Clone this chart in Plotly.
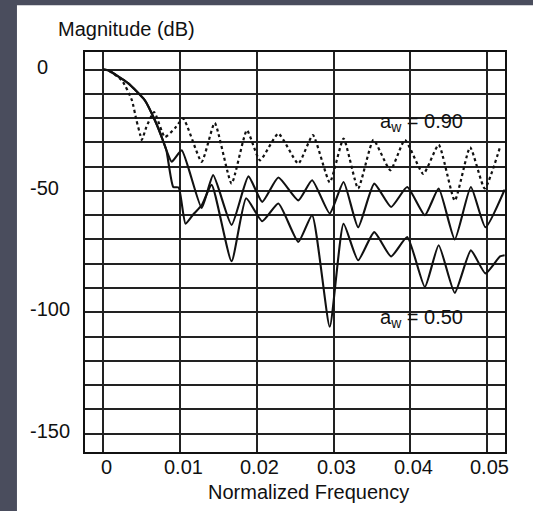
import plotly.graph_objects as go

# ---- data ----
freq_090 = [0, 0.0006, 0.0024, 0.0037, 0.0043, 0.0048, 0.0050, 0.0056, 0.0066, 0.0080, 0.0093, 0.0104,
            0.0128, 0.0145, 0.0167, 0.0187, 0.0204, 0.0228, 0.0254, 0.0273, 0.0295, 0.0313, 0.0332,
            0.0352, 0.0374, 0.0393, 0.0417, 0.0437, 0.0458, 0.0478, 0.0497, 0.0517]
mag_090 = [0, -0.3, -4.4, -12.6, -20.9, -27.0, -29.0, -23.6, -17.5, -27.8, -24.2, -20.2,
           -38.0, -22.0, -47.0, -25.0, -37.4, -26.4, -38.7, -27.0, -46.5, -28.4, -49.0,
           -29.0, -41.5, -29.0, -43.0, -31.0, -54.0, -32.0, -49.0, -32.0]

freq_mid = [0, 0.0006, 0.0032, 0.0054, 0.0067, 0.0076, 0.0082, 0.0089, 0.0102, 0.0128, 0.0143,
            0.0167, 0.0189, 0.0207, 0.0228, 0.0254, 0.0272, 0.0295, 0.0313, 0.0332, 0.0353,
            0.0375, 0.0396, 0.0419, 0.0437, 0.0458, 0.0479, 0.0498, 0.0523]
mag_mid = [0, -0.3, -5.6, -12.7, -20.9, -27.9, -33.2, -38.0, -33.3, -57.0, -43.5,
           -64.0, -44.0, -54.5, -44.5, -53.9, -45.6, -59.3, -46.3, -65.0, -47.0,
           -56.6, -48.4, -60.0, -49.0, -70.0, -48.4, -65.0, -49.5]

freq_050 = [0, 0.0006, 0.0032, 0.0054, 0.0067, 0.0076, 0.0082, 0.0091, 0.0098, 0.0107, 0.0118,
            0.0128, 0.0141, 0.0167, 0.0186, 0.0207, 0.0228, 0.0254, 0.0272, 0.0295, 0.0313,
            0.0332, 0.0353, 0.0375, 0.0396, 0.0419, 0.0437, 0.0458, 0.0479, 0.0498, 0.0517, 0.0523]
mag_050 = [0, -0.3, -5.6, -12.7, -20.9, -27.9, -33.2, -48.4, -48.6, -63.5, -59.3,
           -56.0, -47.5, -79.0, -53.0, -62.5, -55.2, -71.0, -60.0, -106.0, -63.5,
           -78.6, -67.0, -77.0, -69.0, -89.6, -72.4, -92.0, -74.5, -84.0, -77.0, -76.5]

x_ticks = [0, 0.01, 0.02, 0.03, 0.04, 0.05]
x_tick_text = ["0", "0.01", "0.02", "0.03", "0.04", "0.05"]
y_label_vals = [0, -50, -100, -150]
y_label_text = ["0", "-50", "-100", "-150"]

FONT = "Liberation Sans, Arial, sans-serif"
INK = "#111111"
SLATE = "#4a4d5d"

fig = go.Figure()
fig.add_trace(go.Scatter(x=freq_090, y=mag_090, mode="lines",
                         line=dict(color=INK, width=2.2, dash="3px,3px", shape="spline", smoothing=0.5),
                         showlegend=False, hoverinfo="skip"))
fig.add_trace(go.Scatter(x=freq_mid, y=mag_mid, mode="lines",
                         line=dict(color=INK, width=2.1, shape="spline", smoothing=0.5),
                         showlegend=False, hoverinfo="skip"))
fig.add_trace(go.Scatter(x=freq_050, y=mag_050, mode="lines",
                         line=dict(color=INK, width=2.1, shape="spline", smoothing=0.5),
                         showlegend=False, hoverinfo="skip"))

# white page panel on the dark slide background
fig.add_shape(type="rect", xref="paper", yref="paper",
              x0=-0.162, x1=1.2, y0=-0.3, y1=1.1168,
              fillcolor="white", line=dict(width=0), layer="below")

ann = []
ann.append(dict(text="Magnitude (dB)", xref="paper", yref="paper", x=-0.069, y=1.057,
                xanchor="left", yanchor="middle", showarrow=False,
                font=dict(family=FONT, size=20, color=INK)))
ann.append(dict(text="Normalized Frequency", xref="paper", yref="paper", x=0.531, y=-0.1,
                xanchor="center", yanchor="middle", showarrow=False,
                font=dict(family=FONT, size=20, color=INK)))
for v, t in zip(y_label_vals, y_label_text):
    ann.append(dict(text=t, xref="paper", yref="y", x=-0.135 if t != "0" else -0.12, y=v,
                    xanchor="left", yanchor="middle", yshift=3, showarrow=False,
                    font=dict(family=FONT, size=20, color=INK)))
for v, t in zip(x_ticks, x_tick_text):
    ann.append(dict(text=t, xref="x", yref="paper", x=v, y=-0.0375,
                    xanchor="center", yanchor="middle", xshift=3, showarrow=False,
                    font=dict(family=FONT, size=20, color=INK)))
ann.append(dict(text="a<sub>w</sub> = 0.90", xref="x", yref="y", x=0.0414, y=-21.6,
                xanchor="center", yanchor="middle", showarrow=False,
                font=dict(family=FONT, size=20, color=INK)))
ann.append(dict(text="a<sub>w</sub> = 0.50", xref="x", yref="y", x=0.0414, y=-102.6,
                xanchor="center", yanchor="middle", showarrow=False,
                font=dict(family=FONT, size=20, color=INK)))

fig.update_layout(
    width=533, height=511,
    margin=dict(l=85, r=28, t=52, b=59),
    paper_bgcolor=SLATE,
    plot_bgcolor="white",
    annotations=ann,
    showlegend=False,
)
fig.update_xaxes(range=[-0.00241, 0.05235], tickvals=x_ticks, showticklabels=False,
                 showgrid=True, gridcolor="#222222", gridwidth=1.7, zeroline=False,
                 showline=True, linecolor=INK, linewidth=1.7, mirror=True, ticks="")
fig.update_yaxes(range=[-157.6, 7.25], tick0=0, dtick=10, showticklabels=False,
                 showgrid=True, gridcolor="#222222", gridwidth=1.7, zeroline=False,
                 showline=True, linecolor=INK, linewidth=1.7, mirror=True, ticks="")

# remove the browser's default page margin so the figure fills the window
page_js = ("document.body.style.margin='0';"
           "document.body.style.background='" + SLATE + "';"
           "document.documentElement.style.overflow='hidden';")

fig.write_html("out.html", post_script=page_js, config={"displayModeBar": False})
